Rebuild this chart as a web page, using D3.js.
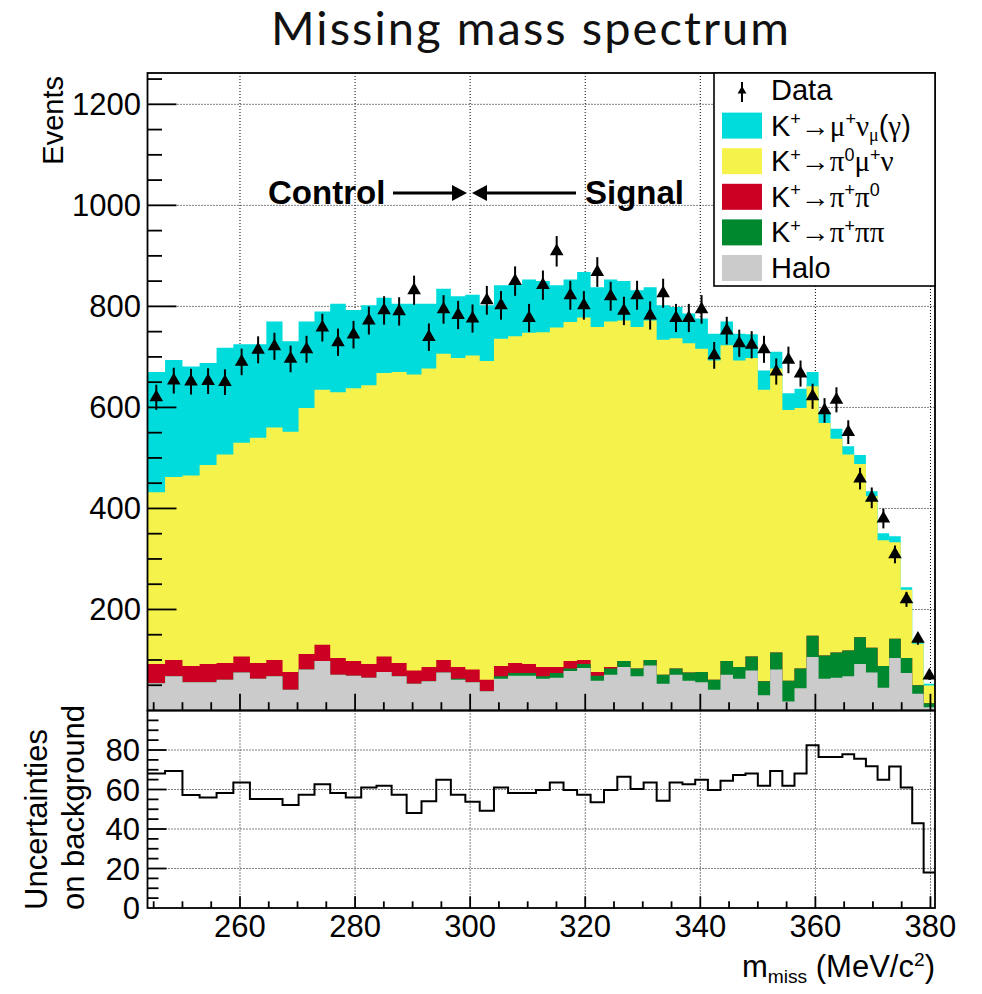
<!DOCTYPE html>
<html>
<head>
<meta charset="utf-8">
<script src="https://cdn.jsdelivr.net/npm/d3@7"></script>
<style>
  html, body { margin: 0; padding: 0; background: #fff; }
  svg { display: block; }
  text { font-family: "Liberation Sans", Arial, Helvetica, sans-serif; fill: #000; }
</style>
</head>
<body>
<svg id="chart" width="982" height="994"></svg>
<script>
// Bin edges in m_miss (MeV/c^2): equal steps of 0.0015 GeV^2 in m_miss^2
const binEdges = [243.926, 246.982, 250.000, 252.982, 255.930, 258.844, 261.725, 264.575,
  267.395, 270.185, 272.947, 275.681, 278.388, 281.069, 283.725, 286.356, 288.964, 291.548,
  294.109, 296.648, 299.166, 301.662, 304.138, 306.594, 309.031, 311.448, 313.847, 316.228,
  318.591, 320.936, 323.265, 325.576, 327.872, 330.151, 332.415, 334.664, 336.898, 339.116,
  341.321, 343.511, 345.688, 347.851, 350.000, 352.136, 354.260, 356.371, 358.469, 360.555,
  362.629, 364.692, 366.742, 368.782, 370.810, 372.827, 374.833, 376.829, 378.814, 380.789];

// Observed events per bin
const dataCounts = [620, 653, 651, 652, 650, 690, 714, 721, 696, 715, 758, 729, 744, 772, 792,
  790, 832, 739, 794, 783, 776, 812, 802, 850, 777, 842, 909, 822, 802, 868, 820, 791, 822, 782,
  826, 777, 777, 794, 703, 752, 727, 724, 715, 671, 694, 667, 622, 594, 615, 551, 459, 421, 380,
  309, 220, 142, 69];

// Expected background components per bin (stacked from the bottom up)
const halo = [54, 68, 56, 56, 61, 75, 63, 68, 41, 81, 98, 71, 69, 65, 76, 68, 53, 58, 75, 61, 56,
  38, 63, 69, 69, 63, 65, 78, 84, 59, 71, 86, 68, 89, 53, 71, 59, 56, 41, 71, 63, 79, 30, 81, 18,
  44, 106, 63, 65, 68, 92, 75, 45, 104, 74, 33, 6.5];
const kPiPiPi = [0, 0, 0, 0, 0, 0, 0, 0, 0, 0, 0, 0, 0, 0, 0, 0, 0, 0, 0, 2, 0, 0, 5, 5, 5, 5, 9,
  5, 8, 10, 12, 12, 15, 11, 18, 12, 16, 20, 20, 27, 23, 28, 28, 34, 41, 39, 42, 46, 50, 51, 53,
  49, 43, 38, 30, 17, 8];
const kPiPi0 = [38, 32, 32, 36, 33, 32, 31, 32, 35, 31, 32, 33, 29, 27, 31, 26, 26, 28, 25, 23,
  25, 23, 20, 20, 18, 18, 12, 15, 8, 7, 3, 0, 0, 0, 0, 0, 0, 0, 0, 0, 0, 0, 0, 0, 0, 0, 0, 0, 0,
  0, 0, 0, 0, 0, 0, 0, 0];
const kMu3 = [340, 362, 377, 394, 413, 423, 446, 460, 476, 487, 505, 526, 540, 552, 561, 576, 586,
  591, 606, 612, 622, 631, 648, 647, 656, 663, 672, 671, 678, 683, 684, 674, 676, 672, 663, 654,
  652, 640, 632, 625, 607, 591, 577, 562, 536, 516, 494, 460, 423, 388, 343, 300, 249, 191, 135,
  82, 35];
const kMu2 = [238, 232, 216, 202, 211, 195, 185, 210, 179, 171, 155, 175, 155, 158, 149, 135, 140,
  128, 129, 122, 120, 110, 106, 102, 105, 101, 84, 84, 90, 79, 83, 78, 73, 66, 68, 62, 59, 60,
  53, 47, 53, 47, 38, 33, 33, 38, 28, 22, 20, 16, 18, 10, 14, 12, 5, 3, 3.5];

// Uncertainty on the background estimate per bin
const bkgUncertainty = [68.1, 69.4, 57.2, 56.0, 58.2, 63.6, 55.2, 55.2, 52.2, 57.4, 62.7, 58.2,
  56.0, 61.0, 61.9, 57.4, 48.1, 54.0, 64.9, 57.4, 53.8, 49.3, 61.0, 58.2, 58.2, 59.7, 63.6, 59.7,
  57.4, 53.5, 59.7, 66.4, 60.2, 63.6, 54.3, 63.6, 62.7, 64.9, 59.7, 64.4, 67.3, 68.1, 61.9, 69.4,
  61.9, 68.1, 82.4, 76.5, 76.5, 77.8, 75.6, 71.8, 64.9, 71.6, 61.0, 42.9, 18.0];

const xTickLabels = [260, 280, 300, 320, 340, 360, 380];
const yTickLabelsMain = [200, 400, 600, 800, 1000, 1200];
const yTickLabelsLower = [0, 20, 40, 60, 80];

const components = [
  { key: "halo",   values: halo,    color: "#cbcbcb" },
  { key: "k3pi",   values: kPiPiPi, color: "#00882f" },
  { key: "k2pi",   values: kPiPi0,  color: "#cc0022" },
  { key: "kmu3",   values: kMu3,    color: "#f5f24b" },
  { key: "kmu2",   values: kMu2,    color: "#00dcdc" }
];

// ---------------------------------------------------------------- layout
const svg = d3.select("#chart");
const X0 = 147.5, X1 = 935;
const MAIN_TOP = 73, MAIN_BOT = 710.5;
const LOW_TOP = 710.5, LOW_BOT = 908;
const SANS = '"Liberation Sans", Arial, Helvetica, sans-serif';
const SERIF = '"Liberation Serif", "Times New Roman", serif';

const x = d3.scaleLinear().domain([binEdges[0], binEdges[binEdges.length - 1]]).range([X0, X1]);
const y = d3.scaleLinear().domain([0, 1262]).range([MAIN_BOT, MAIN_TOP]);
const yl = d3.scaleLinear().domain([0, 100]).range([LOW_BOT, LOW_TOP]);

// ---------------------------------------------------------------- title
svg.append("text")
  .attr("x", 530).attr("y", 45)
  .attr("text-anchor", "middle")
  .attr("textLength", 518).attr("lengthAdjust", "spacing")
  .style("font-family", '"Lato", "Open Sans", "DejaVu Sans", sans-serif')
  .style("font-weight", 400)
  .style("font-size", "47px")
  .style("fill", "#111")
  .text("Missing mass spectrum");

// ---------------------------------------------------------------- grids (dotted, under the fills)
const grid = svg.append("g")
  .attr("stroke", "#000").attr("stroke-width", 1).attr("stroke-dasharray", "1,2");
grid.selectAll("line.gx").data(xTickLabels).join("line").attr("class", "gx")
  .attr("x1", d => x(d)).attr("x2", d => x(d)).attr("y1", MAIN_TOP).attr("y2", MAIN_BOT);
grid.selectAll("line.gy").data(yTickLabelsMain).join("line").attr("class", "gy")
  .attr("x1", X0).attr("x2", X1).attr("y1", d => y(d)).attr("y2", d => y(d));
const gridLow = svg.append("g")
  .attr("stroke", "#000").attr("stroke-width", 1).attr("stroke-dasharray", "1,2");
gridLow.selectAll("line.lx").data(xTickLabels).join("line").attr("class", "lx")
  .attr("x1", d => x(d)).attr("x2", d => x(d)).attr("y1", LOW_TOP).attr("y2", LOW_BOT);
gridLow.selectAll("line.ly").data(yTickLabelsLower.filter(d => d > 0)).join("line").attr("class", "ly")
  .attr("x1", X0).attr("x2", X1).attr("y1", d => yl(d)).attr("y2", d => yl(d));

// ---------------------------------------------------------------- stacked background
const rows = dataCounts.map((_, i) => {
  const r = {};
  components.forEach(c => { r[c.key] = c.values[i]; });
  return r;
});
const stacked = d3.stack().keys(components.map(c => c.key))(rows);

const stepArea = d3.area()
  .curve(d3.curveStepAfter)
  .x(d => x(d.edge))
  .y0(() => y(0))
  .y1(d => y(d.top));

// draw cumulative sums from the top component down, as a stack of filled histograms
const gStack = svg.append("g");
stacked.slice().reverse().forEach(layer => {
  const comp = components.find(c => c.key === layer.key);
  const pts = layer.map((d, i) => ({ edge: binEdges[i], top: d[1] }));
  pts.push({ edge: binEdges[layer.length], top: layer[layer.length - 1][1] });
  gStack.append("path")
    .attr("d", stepArea(pts))
    .attr("fill", comp.color);
});

// ---------------------------------------------------------------- data points
const centers = dataCounts.map((_, i) => (binEdges[i] + binEdges[i + 1]) / 2);
const gData = svg.append("g");
gData.selectAll("line").data(dataCounts).join("line")
  .attr("x1", (d, i) => x(centers[i])).attr("x2", (d, i) => x(centers[i]))
  .attr("y1", d => y(d - Math.sqrt(d))).attr("y2", d => y(d + Math.sqrt(d)))
  .attr("stroke", "#000").attr("stroke-width", 2);
const tri = d3.symbol().type(d3.symbolTriangle).size(80);
gData.selectAll("path").data(dataCounts).join("path")
  .attr("d", tri)
  .attr("transform", (d, i) => `translate(${x(centers[i])},${y(d)})`)
  .attr("fill", "#000");

// ---------------------------------------------------------------- uncertainty histogram
const stepLine = d3.line().curve(d3.curveStepAfter).x(d => x(d.edge)).y(d => yl(d.v));
const uPts = bkgUncertainty.map((v, i) => ({ edge: binEdges[i], v }));
uPts.push({ edge: binEdges[binEdges.length - 1], v: bkgUncertainty[bkgUncertainty.length - 1] });
svg.append("path").attr("d", stepLine(uPts))
  .attr("fill", "none").attr("stroke", "#000").attr("stroke-width", 2);

// ---------------------------------------------------------------- axes and frames
const axes = svg.append("g").attr("stroke", "#000").attr("stroke-width", 1.8).attr("fill", "none");

// main pad y ticks
d3.range(50, 1262, 50).forEach(v => {
  const major = v % 200 === 0;
  axes.append("line").attr("x1", X0).attr("x2", X0 + (major ? 29 : 14.5))
    .attr("y1", y(v)).attr("y2", y(v));
});
// main pad x ticks (upward from the bottom axis)
d3.range(245, 381, 5).forEach(v => {
  const major = v % 20 === 0;
  axes.append("line").attr("x1", x(v)).attr("x2", x(v))
    .attr("y1", MAIN_BOT).attr("y2", MAIN_BOT - (major ? 16.7 : 8.3));
});
// lower pad y ticks
d3.range(5, 100, 5).forEach(v => {
  const major = v % 20 === 0;
  axes.append("line").attr("x1", X0).attr("x2", X0 + (major ? 19 : 11))
    .attr("y1", yl(v)).attr("y2", yl(v));
});
// lower pad x ticks
d3.range(245, 381, 5).forEach(v => {
  const major = v % 20 === 0;
  axes.append("line").attr("x1", x(v)).attr("x2", x(v))
    .attr("y1", LOW_BOT).attr("y2", LOW_BOT - (major ? 11.7 : 6.7));
});
// frames
axes.append("rect").attr("x", X0).attr("y", MAIN_TOP).attr("width", X1 - X0).attr("height", MAIN_BOT - MAIN_TOP);
axes.append("rect").attr("x", X0).attr("y", LOW_TOP).attr("width", X1 - X0).attr("height", LOW_BOT - LOW_TOP);

// tick labels
const tickFont = "31px";
svg.append("g").selectAll("text").data(yTickLabelsMain).join("text")
  .attr("x", 141).attr("y", d => y(d) + 11)
  .attr("text-anchor", "end").style("font-size", tickFont)
  .text(d => d);
svg.append("g").selectAll("text").data(yTickLabelsLower).join("text")
  .attr("x", 140).attr("y", d => yl(d) + 11)
  .attr("text-anchor", "end").style("font-size", tickFont)
  .text(d => d);
svg.append("g").selectAll("text").data(xTickLabels).join("text")
  .attr("x", d => x(d)).attr("y", 937)
  .attr("text-anchor", "middle").style("font-size", tickFont)
  .text(d => d);

// axis titles
svg.append("text")
  .attr("transform", "translate(63,76) rotate(-90)")
  .attr("text-anchor", "end").style("font-size", "29px")
  .text("Events");

const uTitle = svg.append("text")
  .attr("transform", "translate(47,910) rotate(-90)")
  .attr("text-anchor", "start").style("font-size", "31px");
uTitle.append("tspan").attr("x", 0).attr("dy", 0).text("Uncertainties");
uTitle.append("tspan").attr("x", 0).attr("dy", 37).text("on background");

// rich text helper: parts are [string, kind] with kind in n | g | sup | gsup | sub | gsub
function richText(sel, parts, size) {
  let cur = 0;
  parts.forEach(([str, kind]) => {
    const greek = kind[0] === "g";
    const base = greek ? kind.slice(1) : kind;
    let off = 0, fs = size;
    if (base === "sup") { off = -0.36 * size; fs = size * 0.62; }
    if (base === "sub") { off = 0.2 * size; fs = size * 0.62; }
    sel.append("tspan")
      .attr("dy", off - cur)
      .style("font-size", fs + "px")
      .style("font-family", greek ? SERIF : SANS)
      .text(str);
    cur = off;
  });
}

const xTitle = svg.append("text")
  .attr("x", 935).attr("y", 977).attr("text-anchor", "end");
richText(xTitle, [["m", "n"], ["miss", "sub"], [" (MeV/c", "n"], ["2", "sup"], [")", "n"]], 31);

// ---------------------------------------------------------------- control / signal annotation
const ann = svg.append("g");
ann.append("text").attr("x", 268).attr("y", 204)
  .style("font-size", "33px").style("font-weight", "bold").text("Control");
ann.append("text").attr("x", 585).attr("y", 204)
  .style("font-size", "33px").style("font-weight", "bold").text("Signal");
const arrowY = 193;
ann.append("line").attr("x1", 393).attr("x2", 456).attr("y1", arrowY).attr("y2", arrowY)
  .attr("stroke", "#000").attr("stroke-width", 3);
ann.append("path").attr("d", `M467,${arrowY} L452,${arrowY - 8} L452,${arrowY + 8} Z`).attr("fill", "#000");
ann.append("line").attr("x1", 483).attr("x2", 576).attr("y1", arrowY).attr("y2", arrowY)
  .attr("stroke", "#000").attr("stroke-width", 3);
ann.append("path").attr("d", `M472,${arrowY} L487,${arrowY - 8} L487,${arrowY + 8} Z`).attr("fill", "#000");

// ---------------------------------------------------------------- legend
const leg = svg.append("g");
leg.append("rect").attr("x", 714).attr("y", 73).attr("width", 221).attr("height", 213)
  .attr("fill", "#fff").attr("stroke", "#000").attr("stroke-width", 1.6);

const legendEntries = [
  { type: "data", parts: [["Data", "n"]] },
  { type: "fill", color: components[4].color,
    parts: [["K", "n"], ["+", "sup"], ["\u2192", "g"], ["\u03bc", "g"], ["+", "sup"], ["\u03bd", "g"], ["\u03bc", "gsub"], ["(", "n"], ["\u03b3", "g"], [")", "n"]] },
  { type: "fill", color: components[3].color,
    parts: [["K", "n"], ["+", "sup"], ["\u2192", "g"], ["\u03c0", "g"], ["0", "sup"], ["\u03bc", "g"], ["+", "sup"], ["\u03bd", "g"]] },
  { type: "fill", color: components[2].color,
    parts: [["K", "n"], ["+", "sup"], ["\u2192", "g"], ["\u03c0", "g"], ["+", "sup"], ["\u03c0", "g"], ["0", "sup"]] },
  { type: "fill", color: components[1].color,
    parts: [["K", "n"], ["+", "sup"], ["\u2192", "g"], ["\u03c0", "g"], ["+", "sup"], ["\u03c0\u03c0", "g"]] },
  { type: "fill", color: components[0].color, parts: [["Halo", "n"]] }
];
legendEntries.forEach((e, i) => {
  const cy = 90 + i * 35.6;
  if (e.type === "data") {
    leg.append("line").attr("x1", 742).attr("x2", 742).attr("y1", cy - 8).attr("y2", cy + 12)
      .attr("stroke", "#000").attr("stroke-width", 2);
    leg.append("path").attr("d", d3.symbol().type(d3.symbolTriangle).size(34)())
      .attr("transform", `translate(742,${cy + 1})`).attr("fill", "#000");
  } else {
    leg.append("rect").attr("x", 722).attr("y", cy - 13).attr("width", 40).attr("height", 26)
      .attr("fill", e.color);
  }
  const t = leg.append("text").attr("x", 771).attr("y", cy + 10);
  richText(t, e.parts, 29);
});
</script>
</body>
</html>
